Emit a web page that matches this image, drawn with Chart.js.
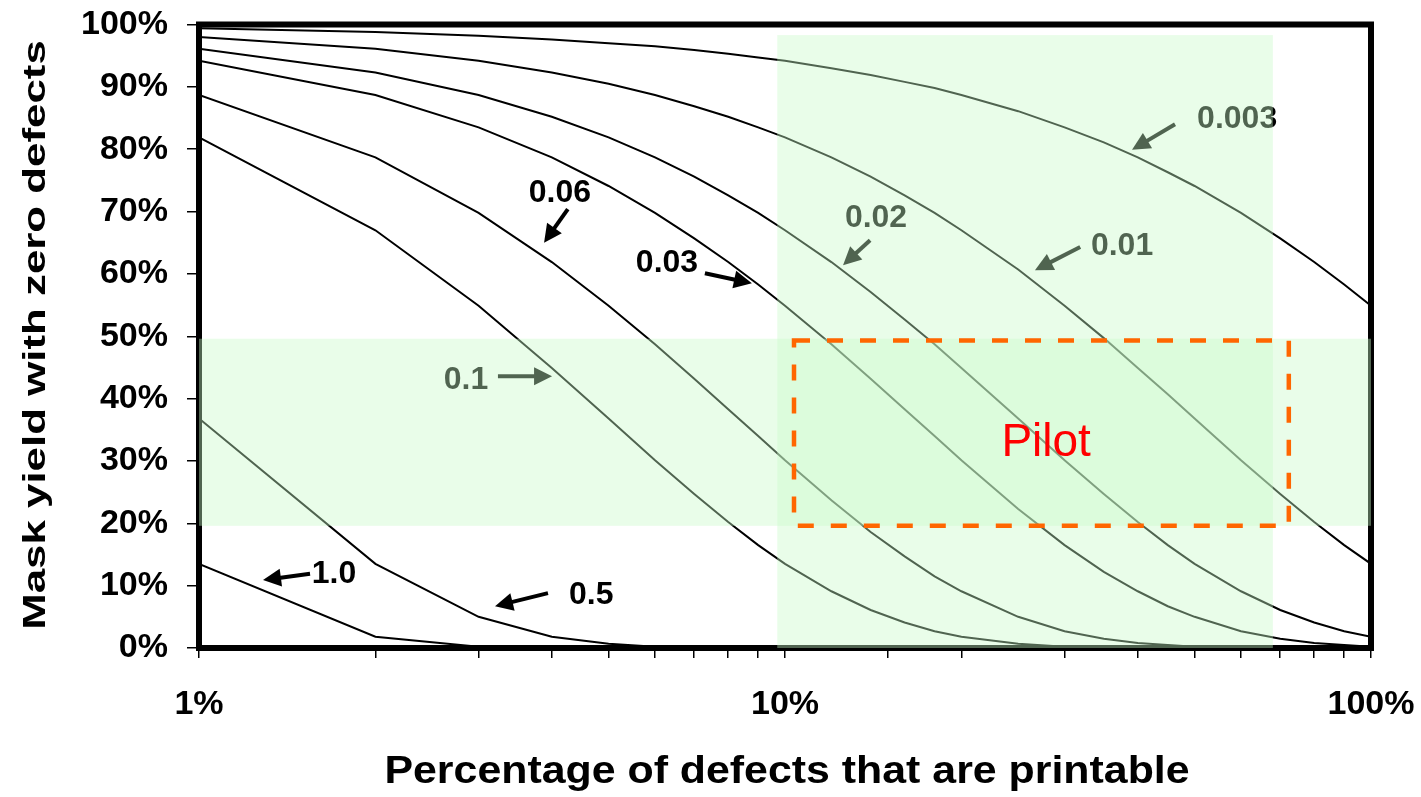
<!DOCTYPE html>
<html>
<head>
<meta charset="utf-8">
<script src="https://cdn.jsdelivr.net/npm/chart.js@4/dist/chart.umd.min.js"></script>
<style>
html,body{margin:0;padding:0;background:#fff;}
#wrap{width:1421px;height:797px;position:relative;}
</style>
</head>
<body>
<div id="wrap"><canvas id="c" width="1421" height="797"></canvas></div>
<script>
// ---- data (percent of defects printable vs. mask yield, %) ----
const xPct = [1,2,3,4,5,6,7,8,9,10,12,14,16,18,20,25,30,35,40,45,50,60,70,80,90,100];
const y0003 = [99.4,98.8,98.2,97.6,97.0,96.5,95.9,95.3,94.7,94.2,93.0,91.9,90.8,89.8,88.7,86.1,83.5,81.1,78.7,76.3,74.1,69.8,65.7,61.9,58.3,54.9];
const y001  = [98.0,96.1,94.2,92.3,90.5,88.7,86.9,85.2,83.5,81.9,78.7,75.6,72.6,69.8,67.0,60.7,54.9,49.7,44.9,40.7,36.8,30.1,24.7,20.2,16.5,13.5];
const y002  = [96.1,92.3,88.7,85.2,81.9,78.7,75.6,72.6,69.8,67.0,61.9,57.1,52.7,48.7,44.9,36.8,30.1,24.7,20.2,16.5,13.5,9.1,6.1,4.1,2.7,1.8];
const y003  = [94.2,88.7,83.5,78.7,74.1,69.8,65.7,61.9,58.3,54.9,48.7,43.2,38.3,34.0,30.1,22.3,16.5,12.2,9.1,6.7,5.0,2.7,1.5,0.8,0.5,0.2];
const y006  = [88.7,78.7,69.8,61.9,54.9,48.7,43.2,38.3,34.0,30.1,23.7,18.6,14.7,11.5,9.1,5.0,2.7,1.5,0.8,0.5,0.2,0.1,0,0,0,0];
const y01   = [81.9,67.0,54.9,44.9,36.8,30.1,24.7,20.2,16.5,13.5,9.1,6.1,4.1,2.7,1.8,0.7,0.2,0.1,0,0,0,0,0,0,0,0];
const y05   = [36.8,13.5,5.0,1.8,0.7,0.2,0.1,0,0,0,0,0,0,0,0,0,0,0,0,0,0,0,0,0,0,0];
const y10   = [13.5,1.8,0.2,0,0,0,0,0,0,0,0,0,0,0,0,0,0,0,0,0,0,0,0,0,0,0];
const seriesNames = ['0.003','0.01','0.02','0.03','0.06','0.1','0.5','1.0'];
const seriesValues = [y0003, y001, y002, y003, y006, y01, y05, y10];
const xTickValues = [1, 10, 100];
const xTickLabels = ['1%', '10%', '100%'];
const yTickStep = 10;
const xTitle = 'Percentage of defects that are printable';
const yTitle = 'Mask yield with zero defects';
const pilotLabel = 'Pilot';

// ---- annotation placement (data units) ----
const curveLabels = [
  {t:'0.003', x:59.1, y:85.0, ax:46.3, ay:84.0, bx:39.1, by:79.9},
  {t:'0.01',  x:37.6, y:64.6, ax:31.9, ay:64.3, bx:26.7, by:60.6},
  {t:'0.02',  x:14.3, y:69.1, ax:13.97,ay:65.4, bx:12.56,by:61.4},
  {t:'0.06',  x:4.13, y:73.1, ax:4.26, ay:70.4, bx:3.88, by:65.0},
  {t:'0.03',  x:6.29, y:61.9, ax:7.30, ay:60.1, bx:8.78, by:58.5},
  {t:'0.1',   x:2.855,y:43.1, ax:3.237,ay:43.6, bx:4.004,by:43.6},
  {t:'1.0',   x:1.70, y:12.0, ax:1.547,ay:11.9, bx:1.286,by:10.9},
  {t:'0.5',   x:4.67, y:8.66, ax:3.94, ay:8.8,  bx:3.20, by:6.7}
];
const bandV = {x0:9.7, x1:68, y0:0, y1:98.3};
const bandH = {x0:1, x1:100, y0:19.6, y1:49.6};
const pilotBox = {x0:10.36, x1:72.4, y0:19.6, y1:49.3};
const pilotPos = {x:27.9, y:32.9};

const FONT = "'Liberation Sans', Arial, sans-serif";

const datasets = seriesNames.map((name, i) => ({
  label: name,
  data: xPct.map((x, j) => ({x: x, y: seriesValues[i][j]})),
  borderColor: '#000',
  borderWidth: 2,
  pointRadius: 0,
  tension: 0,
  fill: false
}));

function arrow(ctx, x1, y1, x2, y2) {
  const ang = Math.atan2(y2 - y1, x2 - x1);
  const hl = 18, hw = 9;
  const bx = x2 - hl * Math.cos(ang), by = y2 - hl * Math.sin(ang);
  ctx.lineWidth = 4;
  ctx.beginPath(); ctx.moveTo(x1, y1); ctx.lineTo(bx + 2*Math.cos(ang), by + 2*Math.sin(ang)); ctx.stroke();
  ctx.beginPath();
  ctx.moveTo(x2, y2);
  ctx.lineTo(bx + hw * Math.sin(ang), by - hw * Math.cos(ang));
  ctx.lineTo(bx - hw * Math.sin(ang), by + hw * Math.cos(ang));
  ctx.closePath(); ctx.fill();
}

function zeroPad(s) { s.paddingTop = 0; s.paddingBottom = 0; s.paddingLeft = 0; s.paddingRight = 0; }

const decor = {
  id: 'decor',
  afterDatasetsDraw(chart) {
    const {ctx, chartArea: a, scales: {x, y}} = chart;
    const X = v => x.getPixelForValue(v), Y = v => y.getPixelForValue(v);
    ctx.save();
    // plot frame
    ctx.strokeStyle = '#000'; ctx.lineWidth = 6;
    ctx.strokeRect(a.left, a.top, a.right - a.left, a.bottom - a.top);
    // curve labels and arrows
    ctx.fillStyle = '#000'; ctx.strokeStyle = '#000';
    ctx.font = 'bold 32px ' + FONT;
    ctx.textAlign = 'center'; ctx.textBaseline = 'middle';
    curveLabels.forEach(l => {
      ctx.fillText(l.t, X(l.x), Y(l.y) + 1);
      arrow(ctx, X(l.ax), Y(l.ay), X(l.bx), Y(l.by));
    });
    // translucent green bands
    ctx.fillStyle = 'rgba(200,250,200,0.4)';
    [bandV, bandH].forEach(b => {
      ctx.fillRect(X(b.x0), Y(b.y1), X(b.x1) - X(b.x0), Y(b.y0) - Y(b.y1));
    });
    // pilot dashed box
    ctx.strokeStyle = '#ff6600'; ctx.lineWidth = 4.5;
    ctx.setLineDash([16, 17]);
    ctx.strokeRect(X(pilotBox.x0), Y(pilotBox.y1), X(pilotBox.x1) - X(pilotBox.x0), Y(pilotBox.y0) - Y(pilotBox.y1));
    ctx.setLineDash([]);
    ctx.fillStyle = '#ff0000';
    ctx.font = '46px ' + FONT;
    ctx.fillText(pilotLabel, X(pilotPos.x), Y(pilotPos.y));
    ctx.restore();
  },
  afterDraw(chart) {
    const ctx = chart.ctx;
    ctx.save();
    ctx.fillStyle = '#000';
    ctx.textAlign = 'center'; ctx.textBaseline = 'alphabetic';
    // x title
    ctx.font = 'bold 38px ' + FONT;
    ctx.translate(787, 783);
    ctx.scale(1.128, 1);
    ctx.fillText(xTitle, 0, 0);
    ctx.restore();
    ctx.save();
    ctx.fillStyle = '#000';
    ctx.textAlign = 'center'; ctx.textBaseline = 'alphabetic';
    ctx.font = 'bold 32px ' + FONT;
    ctx.translate(45, 335);
    ctx.rotate(-Math.PI / 2);
    ctx.scale(1.37, 1);
    ctx.fillText(yTitle, 0, 0);
    ctx.restore();
  }
};

new Chart(document.getElementById('c'), {
  type: 'line',
  data: { datasets: datasets },
  options: {
    responsive: false,
    animation: false,
    devicePixelRatio: 1,
    layout: { padding: { left: 0, right: 50, top: 24.5, bottom: 0 } },
    plugins: { legend: { display: false }, tooltip: { enabled: false } },
    scales: {
      x: {
        type: 'logarithmic', min: 1, max: 100, position: 'bottom',
        border: { display: false },
        grid: { drawOnChartArea: false, drawTicks: true, tickLength: 10, color: '#000', lineWidth: 1.5 },
        ticks: {
          autoSkip: false, maxRotation: 0, minRotation: 0, padding: 26, color: '#000',
          font: { family: FONT, size: 34, weight: 'bold' },
          callback: (v) => { const i = xTickValues.indexOf(Number(v)); return i >= 0 ? xTickLabels[i] : ''; }
        },
        afterFit: (s) => { s.height = 149; zeroPad(s); }
      },
      y: {
        min: 0, max: 100,
        border: { display: false },
        grid: { drawOnChartArea: false, drawTicks: true, tickLength: 12, color: '#000', lineWidth: 1.5 },
        ticks: {
          stepSize: yTickStep, padding: 19, color: '#000',
          font: { family: FONT, size: 34, weight: 'bold' },
          callback: (v) => v + '%'
        },
        afterFit: (s) => { s.width = 199; zeroPad(s); }
      }
    }
  },
  plugins: [decor]
});
</script>
</body>
</html>
